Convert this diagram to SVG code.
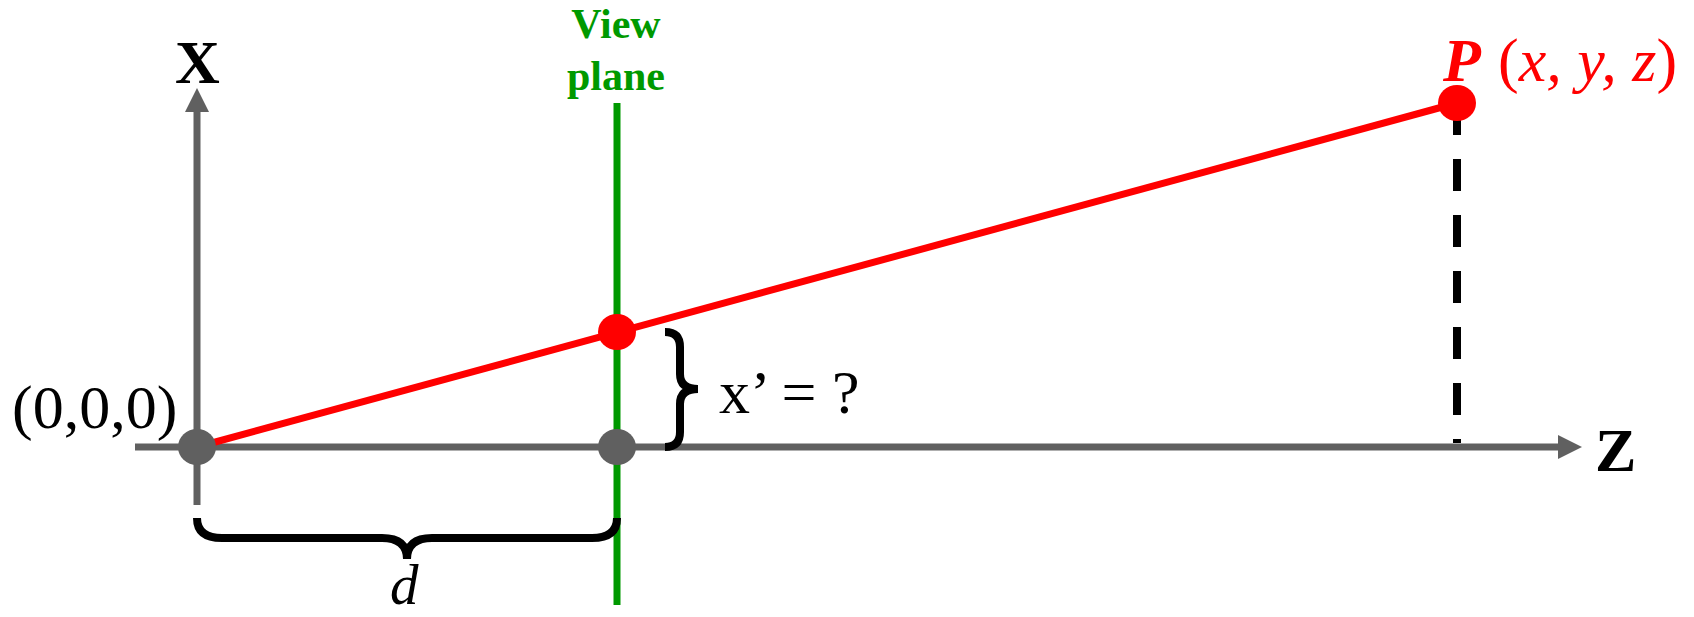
<svg xmlns="http://www.w3.org/2000/svg" width="1694" height="617" viewBox="0 0 1694 617">
  <style>
    .axis { stroke: #606060; stroke-width: 7; fill: none; }
    .ray { stroke: #ff0000; stroke-width: 7; fill: none; }
    .plane { stroke: #009900; stroke-width: 7; fill: none; }
    .dash { stroke: #000000; stroke-width: 8; fill: none; stroke-dasharray: 32 24; }
    .brace { stroke: #000000; stroke-width: 8; fill: none; stroke-linecap: butt; }
    .gdot { fill: #606060; }
    .rdot { fill: #ff0000; }
    .t { font-family: "Liberation Serif", "Times New Roman", serif; font-size: 62px; }
    .b { font-weight: bold; }
    .i { font-style: italic; }
    .n { font-style: normal; }
    .red { fill: #ff0000; }
    .green { fill: #009900; font-size: 42px; font-weight: bold; }
  </style>
  <defs>
    <marker id="arr" markerUnits="userSpaceOnUse" markerWidth="24" markerHeight="24" refX="0" refY="12" orient="auto">
      <path d="M0,0 L24,12 L0,24 Z" fill="#606060"/>
    </marker>
  </defs>
  <rect width="1694" height="617" fill="#ffffff"/>

  <g id="connectors">
    <line class="axis" x1="197" y1="505" x2="197" y2="112" marker-end="url(#arr)"/>
    <line class="axis" x1="135" y1="447" x2="1558" y2="447" marker-end="url(#arr)"/>
    <line class="plane" x1="617" y1="103" x2="617" y2="605"/>
    <line class="dash" x1="1457" y1="103" x2="1457" y2="443"/>
    <line class="ray" x1="197" y1="447" x2="1457" y2="103"/>
    <path class="brace" d="M665,332 Q680,332 680,347 L680,374 Q680,389 698,389 Q680,389 680,404 L680,432 Q680,447 665,447"/>
    <path class="brace" d="M197,518 Q197,538 222,538 L382,538 Q407,538 407,559 Q407,538 432,538 L592,538 Q617,538 617,518"/>
  </g>

  <g id="origin">
    <ellipse class="gdot" cx="197" cy="447" rx="19" ry="18"/>
    <text class="t" x="12" y="428">(0,0,0)</text>
  </g>
  <g id="plane-foot">
    <ellipse class="gdot" cx="617" cy="447" rx="19" ry="18"/>
  </g>
  <g id="projected-point">
    <ellipse class="rdot" cx="617" cy="332" rx="19" ry="18"/>
  </g>
  <g id="point-P">
    <ellipse class="rdot" cx="1457" cy="103" rx="19" ry="18"/>
    <text class="t red" x="1443" y="81"><tspan class="b i">P</tspan><tspan class="n" x="1498">(</tspan><tspan class="i">x, y, z</tspan><tspan class="n">)</tspan></text>
  </g>
  <g id="view-plane-label">
    <text class="t green" x="616" y="38" text-anchor="middle">View</text>
    <text class="t green" x="616" y="90" text-anchor="middle">plane</text>
  </g>
  <g id="axis-labels">
    <text class="t b" x="175" y="83">X</text>
    <text class="t b" x="1595" y="471">Z</text>
  </g>
  <g id="x-prime-label">
    <text class="t" x="719" y="413">x’ = ?</text>
  </g>
  <g id="d-label">
    <text class="t i" x="390" y="604" style="font-size:57px">d</text>
  </g>
</svg>
